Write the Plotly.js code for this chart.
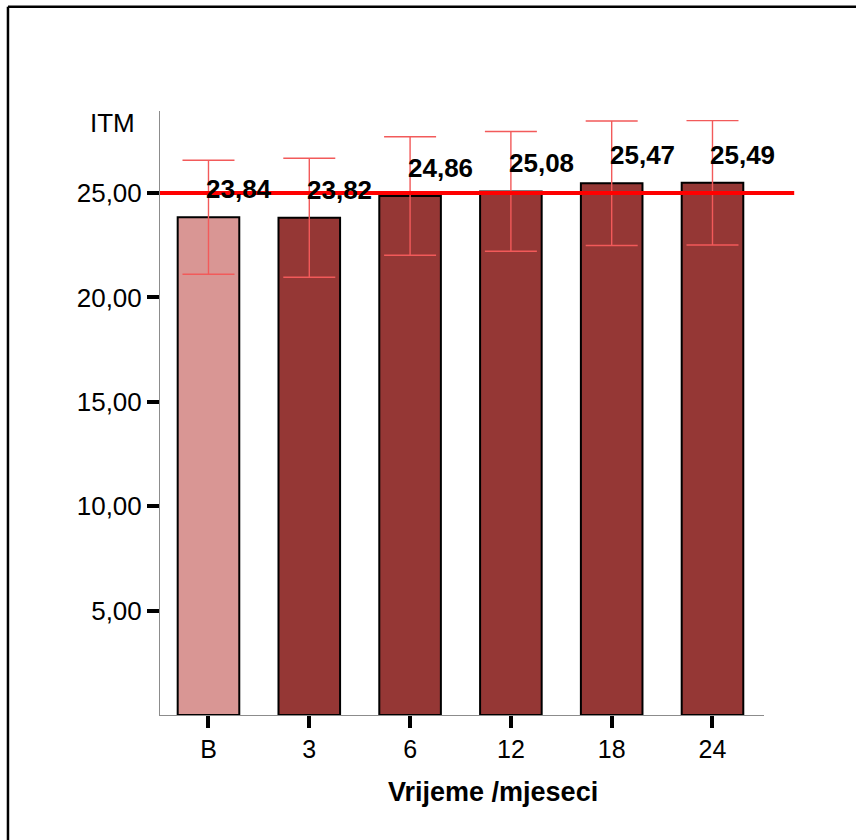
<!DOCTYPE html>
<html>
<head>
<meta charset="utf-8">
<script src="https://cdn.plot.ly/plotly-3.0.1.min.js"></script>
<style>
  html, body { margin: 0; padding: 0; background: #fff; }
  #chart { width: 856px; height: 840px; }
</style>
</head>
<body>
<div id="chart"></div>
<script>
// Data
const categories = ['B', '3', '6', '12', '18', '24'];
const meanITM = [23.84, 23.82, 24.86, 25.08, 25.47, 25.49];
const errITM = [2.73, 2.85, 2.84, 2.87, 2.98, 2.98];
const labelText = ['23,84', '23,82', '24,86', '25,08', '25,47', '25,49'];
const yTickVals = [5, 10, 15, 20, 25];
const referenceLine = 25;

const FONT = 'Liberation Sans, Arial, Helvetica, sans-serif';
const lightBar = '#d99694';
const darkBar = '#953735';

const barColors = categories.map((c, i) => i === 0 ? lightBar : darkBar);

const trace = {
  type: 'bar',
  x: categories,
  y: meanITM,
  marker: { color: barColors, line: { color: '#000', width: 2 } },
  error_y: { type: 'data', array: errITM, visible: true, color: '#f25a5a', thickness: 1.4, width: 26 },
  hoverinfo: 'x+y',
  showlegend: false
};

// category axis: annotation x given as category index
const labelAnnotations = categories.map((c, i) => ({
  x: i, y: meanITM[i], xref: 'x', yref: 'y',
  text: '<b>' + labelText[i] + '</b>',
  showarrow: false, xanchor: 'left', yanchor: 'middle',
  xshift: -4, yshift: 28,
  font: { family: FONT, size: 26, color: '#000' }
}));

const layout = {
  width: 856, height: 840,
  margin: { l: 160, r: 92, t: 111, b: 125 },
  paper_bgcolor: '#fff', plot_bgcolor: '#fff',
  separators: ',.',
  bargap: 0.389,
  font: { family: FONT, color: '#000' },
  xaxis: {
    type: 'category',
    categoryorder: 'array', categoryarray: categories,
    range: [-0.481, 5.511],
    showline: true, linecolor: '#8c8c8c', linewidth: 1,
    ticks: 'outside', ticklen: 12, tickwidth: 4, tickcolor: '#000',
    tickfont: { family: FONT, size: 25, color: '#000' },
    showgrid: false, zeroline: false, fixedrange: true
  },
  yaxis: {
    range: [0, 28.93],
    tickvals: yTickVals, tickformat: '.2f',
    showline: true, linecolor: '#8c8c8c', linewidth: 1,
    ticks: 'outside', ticklen: 12, tickwidth: 4, tickcolor: '#000',
    tickfont: { family: FONT, size: 26, color: '#000' },
    showgrid: false, zeroline: false, fixedrange: true
  },
  shapes: [
    { type: 'line', xref: 'paper', yref: 'y', x0: 0, x1: 1.05, y0: referenceLine, y1: referenceLine,
      line: { color: '#ff0000', width: 4 }, layer: 'above' },
    { type: 'line', xref: 'paper', yref: 'paper', x0: -0.2517, x1: -0.2517, y0: 1.1727, y1: -0.4,
      line: { color: '#000', width: 2.5 } },
    { type: 'line', xref: 'paper', yref: 'paper', x0: -0.2517, x1: 1.3, y0: 1.1727, y1: 1.1727,
      line: { color: '#000', width: 2.5 } }
  ],
  annotations: [
    { xref: 'paper', yref: 'paper', x: -0.038, y: 0.980, xanchor: 'right', yanchor: 'middle',
      text: 'ITM', showarrow: false, font: { family: FONT, size: 26, color: '#000' } },
    { xref: 'paper', yref: 'paper', x: 0.551, y: -0.127, xanchor: 'center', yanchor: 'middle',
      text: '<b>Vrijeme /mjeseci</b>', showarrow: false, font: { family: FONT, size: 27, color: '#000' } }
  ].concat(labelAnnotations)
};

Plotly.newPlot('chart', [trace], layout, { displayModeBar: false, staticPlot: true });
</script>
</body>
</html>
